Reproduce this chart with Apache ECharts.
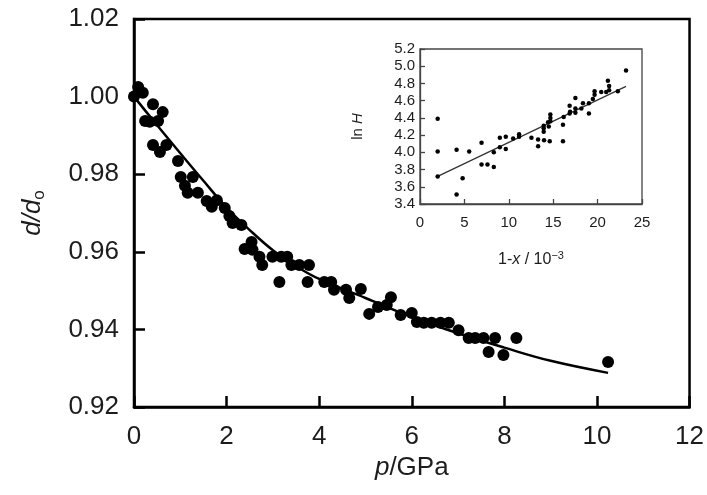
<!DOCTYPE html>
<html>
<head>
<meta charset="utf-8">
<script src="https://cdn.jsdelivr.net/npm/echarts@6/dist/echarts.min.js"></script>
<style>
html,body{margin:0;padding:0;background:#fff;}
#chart{width:707px;height:495px;}
</style>
</head>
<body>
<div id="chart"></div>
<script>
// Main scatter: pressure p (GPa) vs d/d0
const pressure = [0.00,0.09,0.19,0.41,0.62,0.24,0.34,0.52,0.41,0.56,0.70,0.95,1.01,1.27,1.10,1.16,1.38,1.57,1.79,1.68,1.96,2.06,2.13,2.32,2.39,2.54,2.56,2.71,2.77,2.99,3.18,3.31,3.14,3.40,3.57,3.78,3.75,4.11,4.26,4.32,4.58,4.65,4.90,5.08,5.27,5.46,5.55,5.76,6.00,6.11,6.26,6.43,6.62,6.80,7.01,7.23,7.37,7.55,7.80,7.66,7.98,8.26,10.24];
const dRatio = [1.0000,1.0025,1.0010,0.9980,0.9960,0.9937,0.9935,0.9937,0.9875,0.9857,0.9875,0.9834,0.9793,0.9793,0.9770,0.9752,0.9752,0.9731,0.9733,0.9716,0.9713,0.9692,0.9674,0.9669,0.9607,0.9625,0.9605,0.9587,0.9566,0.9587,0.9587,0.9587,0.9522,0.9566,0.9566,0.9566,0.9522,0.9522,0.9522,0.9502,0.9502,0.9481,0.9504,0.9440,0.9458,0.9463,0.9483,0.9437,0.9442,0.9419,0.9417,0.9417,0.9417,0.9417,0.9398,0.9378,0.9378,0.9378,0.9378,0.9342,0.9334,0.9378,0.9316];
// Fitted curve
const fitP = [0,0.5,1,1.5,2,2.5,3,3.5,4,5,6,7,8,9,10.24];
const fitD = [1.0000,0.9926,0.9854,0.9783,0.9714,0.9656,0.9604,0.9563,0.9530,0.9481,0.9432,0.9390,0.9353,0.9319,0.9288];
// Inset: 1-x (10^-3) vs ln H
const insetX = [1.99,1.99,1.99,4.12,4.12,4.8,5.54,6.93,6.93,7.6,8.31,8.31,8.99,8.99,9.66,9.66,10.49,11.16,11.16,12.55,13.3,13.3,13.97,13.93,13.93,13.93,14.42,14.61,14.68,14.68,14.68,14.5,16.1,16.1,16.18,16.85,16.85,17.5,17.5,17.5,18.17,18.35,19.02,19.02,19.47,19.66,19.66,20.41,20.97,21.16,21.3,21.3,22.28,23.2,16.9];
const insetY = [4.39,4.01,3.72,4.03,3.51,3.70,4.01,4.11,3.86,3.86,3.83,4.00,4.17,4.06,4.18,4.04,4.16,4.18,4.21,4.17,4.15,4.07,4.14,4.24,4.28,4.31,4.35,4.13,4.44,4.40,4.36,4.30,4.13,4.32,4.41,4.45,4.54,4.63,4.46,4.51,4.51,4.57,4.45,4.57,4.62,4.67,4.71,4.70,4.70,4.83,4.72,4.77,4.71,4.95,4.47];
const insetFitX = [1.99,23.2];
const insetFitY = [3.72,4.765];
// Tick settings
const mainXTicks = {min:0,max:12,interval:2};
const mainYTicks = {min:0.92,max:1.02,interval:0.02};
const insetXTicks = {min:0,max:25,interval:5};
const insetYTicks = {min:3.4,max:5.2,interval:0.2};

const zip = (a,b) => a.map((v,i)=>[v,b[i]]);
const FONT = 'Liberation Sans, Arial, sans-serif';
const TXT = '#1c1c1c';

const chart = echarts.init(document.getElementById('chart'), null, {renderer:'canvas'});
chart.setOption({
  animation:false,
  backgroundColor:'#fff',
  grid:[
    {left:134, top:19, right:16, bottom:88, show:true, borderColor:'#000', borderWidth:2.5, backgroundColor:'transparent'},
    {left:420, top:49, width:222, height:155, show:true, borderColor:'#444', borderWidth:1.3, backgroundColor:'transparent'}
  ],
  xAxis:[
    {gridIndex:0, type:'value', min:mainXTicks.min, max:mainXTicks.max, interval:mainXTicks.interval,
     axisLine:{show:true, onZero:false, lineStyle:{color:'#000', width:2.5}},
     axisTick:{show:true, inside:true, length:11, lineStyle:{color:'#000', width:2.5}},
     axisLabel:{fontSize:26, fontFamily:FONT, color:TXT, margin:17},
     splitLine:{show:false},
     name:'{i|p}{n|/GPa}', nameLocation:'middle', nameGap:47,
     nameTextStyle:{rich:{i:{fontSize:26, fontStyle:'italic', fontFamily:FONT, color:TXT}, n:{fontSize:26, fontFamily:FONT, color:TXT}}}
    },
    {gridIndex:1, type:'value', min:insetXTicks.min, max:insetXTicks.max, interval:insetXTicks.interval,
     axisLine:{show:true, onZero:false, lineStyle:{color:'#444', width:1.3}},
     axisTick:{show:true, inside:true, length:5, lineStyle:{color:'#444', width:1.3}},
     axisLabel:{fontSize:15, fontFamily:FONT, color:TXT, margin:11},
     splitLine:{show:false},
     name:'{n|1-}{i|x}{n| / 10}{sup|−3}', nameLocation:'middle', nameGap:46,
     nameTextStyle:{rich:{
       n:{fontSize:16, fontFamily:FONT, color:TXT, lineHeight:20},
       i:{fontSize:16, fontStyle:'italic', fontFamily:FONT, color:TXT, lineHeight:20},
       sup:{fontSize:11, fontFamily:FONT, color:TXT, lineHeight:12, verticalAlign:'top'}
     }}
    }
  ],
  yAxis:[
    {gridIndex:0, type:'value', min:mainYTicks.min, max:mainYTicks.max, interval:mainYTicks.interval,
     axisLine:{show:true, onZero:false, lineStyle:{color:'#000', width:2.5}},
     axisTick:{show:true, inside:true, length:11, lineStyle:{color:'#000', width:2.5}},
     axisLabel:{fontSize:26, fontFamily:FONT, color:TXT, margin:15, formatter:v=>v.toFixed(2)},
     splitLine:{show:false},
     name:'{i|d/d}{s|o}', nameLocation:'middle', nameGap:86, nameRotate:90,
     nameTextStyle:{rich:{
       i:{fontSize:26, fontStyle:'italic', fontFamily:FONT, color:TXT, lineHeight:30},
       s:{fontSize:17, fontFamily:FONT, color:TXT, lineHeight:14, verticalAlign:'bottom'}
     }}
    },
    {gridIndex:1, type:'value', min:insetYTicks.min, max:insetYTicks.max, interval:insetYTicks.interval,
     axisLine:{show:true, onZero:false, lineStyle:{color:'#444', width:1.3}},
     axisTick:{show:true, inside:true, length:5, lineStyle:{color:'#444', width:1.3}},
     axisLabel:{fontSize:15, fontFamily:FONT, color:TXT, margin:5, formatter:v=>v.toFixed(1)},
     splitLine:{show:false},
     name:'{n|ln }{i|H}', nameLocation:'middle', nameGap:55, nameRotate:90,
     nameTextStyle:{rich:{
       n:{fontSize:15, fontFamily:FONT, color:TXT},
       i:{fontSize:15, fontStyle:'italic', fontFamily:FONT, color:TXT}
     }}
    }
  ],
  series:[
    {type:'line', xAxisIndex:0, yAxisIndex:0, data:zip(fitP,fitD), smooth:0.4, showSymbol:false,
     lineStyle:{color:'#000', width:2.5}, z:2},
    {type:'scatter', xAxisIndex:0, yAxisIndex:0, data:zip(pressure,dRatio), symbol:'circle', symbolSize:12,
     itemStyle:{color:'#000', opacity:1}, z:3},
    {type:'line', xAxisIndex:1, yAxisIndex:1, data:zip(insetFitX,insetFitY), showSymbol:false,
     lineStyle:{color:'#333', width:1.3}, z:2},
    {type:'scatter', xAxisIndex:1, yAxisIndex:1, data:zip(insetX,insetY), symbol:'circle', symbolSize:4.5,
     itemStyle:{color:'#000', opacity:1}, z:3}
  ]
});
</script>
</body>
</html>
